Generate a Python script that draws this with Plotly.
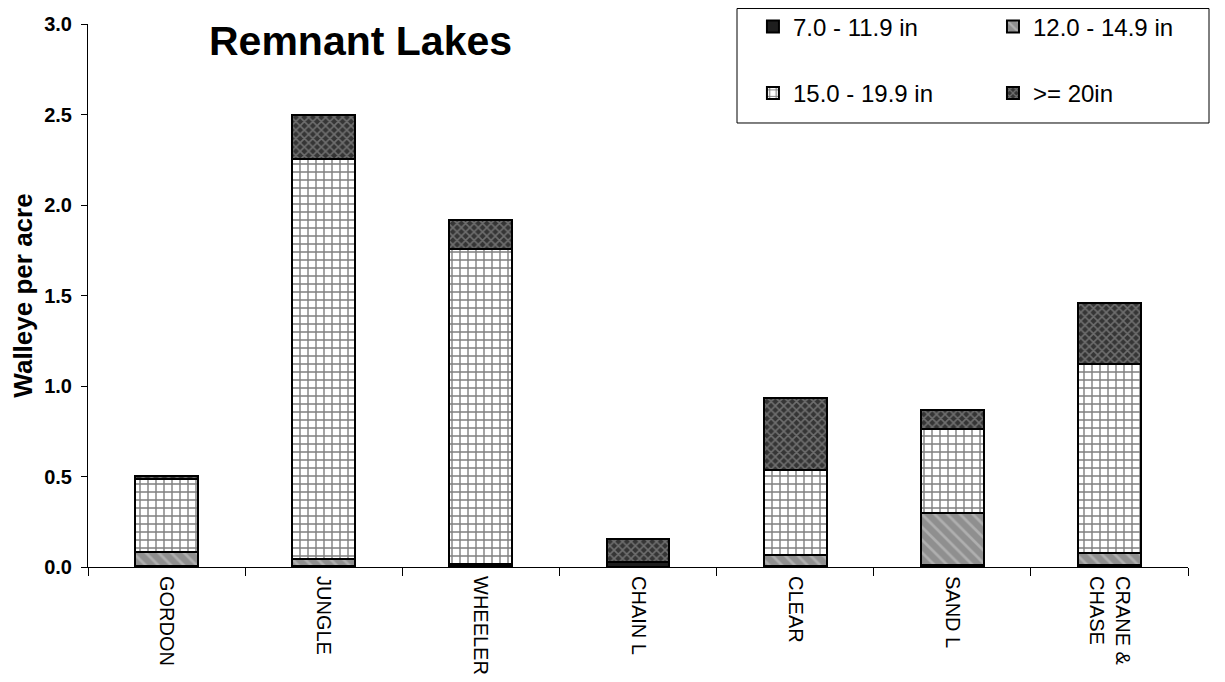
import plotly.graph_objects as go

lakes = ["GORDON", "JUNGLE", "WHEELER", "CHAIN L", "CLEAR", "SAND L", "CRANE &<br>CHASE"]
s7_11 = [0.005, 0.005, 0.005, 0.025, 0.005, 0.01, 0.01]
s12_14 = [0.08, 0.04, 0.01, 0.0, 0.06, 0.29, 0.07]
s15_19 = [0.40, 2.21, 1.74, 0.0, 0.47, 0.46, 1.04]
s20 = [0.02, 0.24, 0.16, 0.13, 0.40, 0.11, 0.34]

names = ["7.0 - 11.9 in", "12.0 - 14.9 in", "15.0 - 19.9 in", ">= 20in"]

FONT = "Liberation Sans, Arial, sans-serif"
fig = go.Figure()
line = dict(color="black", width=2)

fig.add_trace(go.Bar(x=lakes, y=s7_11, name=names[0], legend="legend", showlegend=True,
                     marker=dict(color="#1e1e1e", line=line)))
fig.add_trace(go.Bar(x=lakes, y=s12_14, name=names[1], legend="legend2", showlegend=True,
                     marker=dict(color="#9a9a9a", line=line,
                                 pattern=dict(shape="\\", fgcolor="#cfcfcf", bgcolor="#8f8f8f",
                                              size=9, solidity=0.3))))
fig.add_trace(go.Bar(x=lakes, y=s15_19, name=names[2], legend="legend3", showlegend=True,
                     marker=dict(color="white", line=line,
                                 pattern=dict(shape="+", fgcolor="black", bgcolor="white",
                                              size=8, solidity=0.32))))
fig.add_trace(go.Bar(x=lakes, y=s20, name=names[3], legend="legend4", showlegend=True,
                     marker=dict(color="#3a3a3a", line=line,
                                 pattern=dict(shape="x", fgcolor="#a8a8a8", bgcolor="#353535",
                                              size=6, solidity=0.45))))

def leg(x, y):
    return dict(x=x, y=y, xanchor="left", yanchor="top", bgcolor="rgba(0,0,0,0)",
                borderwidth=0, font=dict(size=24, color="black", family=FONT))

fig.update_layout(
    width=1217, height=674,
    showlegend=True,
    barmode="stack", bargap=0.6,
    plot_bgcolor="white", paper_bgcolor="white",
    margin=dict(l=80, r=37, t=16, b=115, autoexpand=False),
    font=dict(family=FONT, color="black"),
    legend=leg(0.6045, 1.036),
    legend2=leg(0.8227, 1.036),
    legend3=leg(0.6045, 0.9134),
    legend4=leg(0.8227, 0.9134),
    shapes=[dict(type="rect", xref="paper", yref="paper", x0=0.59, x1=1.0191, y0=0.8177, y1=1.0285,
                 line=dict(color="black", width=1), fillcolor="rgba(0,0,0,0)", layer="below")],
    annotations=[dict(text="<b>Remnant Lakes</b>", x=0.248, y=0.968, xref="paper", yref="paper",
                      xanchor="center", yanchor="middle",
                      showarrow=False, font=dict(size=41, color="black", family=FONT))],
)

fig.update_yaxes(
    range=[0, 3], dtick=0.5, tickformat=".1f",
    showline=True, linecolor="black", linewidth=1,
    ticks="outside", ticklen=6, tickcolor="black", ticklabelstandoff=5,
    showgrid=False, zeroline=False,
    tickfont=dict(size=20, color="black", family=FONT, weight="bold"),
    title=dict(text="<b>Walleye per acre</b>", font=dict(size=26, color="black", family=FONT), standoff=6),
)
fig.update_xaxes(
    showline=True, linecolor="black", linewidth=1,
    ticks="outside", ticklen=8, tickcolor="black", tickson="boundaries", ticklabelstandoff=4,
    tickangle=90, tickfont=dict(size=20, color="black", family=FONT),
    showgrid=False,
)

fig.write_html("out.html")
